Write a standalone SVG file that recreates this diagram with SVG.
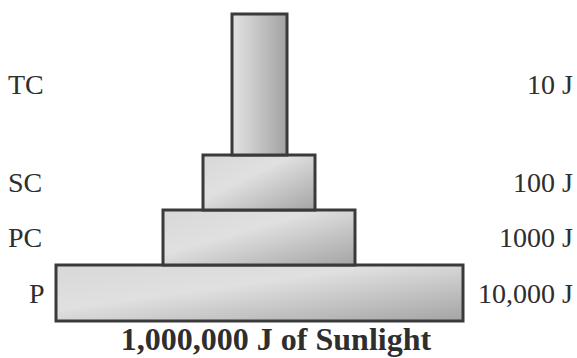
<svg xmlns="http://www.w3.org/2000/svg" width="577" height="358" viewBox="0 0 577 358">
<style>
.lvl{stroke:#3a3a3a;stroke-width:3}
.t{font-family:"Liberation Serif","Times New Roman",serif;font-size:28px;fill:#2e2e2e}
.r{text-anchor:end}
.b{font-weight:bold;font-size:32px;text-anchor:middle}
</style>
<defs>
<linearGradient id="gv" x1="0" y1="0" x2="1" y2="0">
<stop offset="0" stop-color="#e2e2e2"/>
<stop offset="0.3" stop-color="#d0d0d0"/>
<stop offset="1" stop-color="#a2a2a2"/>
</linearGradient>
<linearGradient id="gd" x1="0" y1="0" x2="1" y2="1">
<stop offset="0" stop-color="#d8d8d8"/>
<stop offset="0.4" stop-color="#e0e0e0"/>
<stop offset="1" stop-color="#a4a4a4"/>
</linearGradient>
</defs>
<rect width="577" height="358" fill="#fff"/>
<g id="P">
<rect class="lvl" x="56" y="265" width="407" height="56" fill="url(#gd)"/>
<text class="t" x="29" y="303">P</text>
<text class="t r" x="573" y="303">10,000 J</text>
</g>
<g id="PC">
<rect class="lvl" x="163" y="210" width="192" height="55" fill="url(#gd)"/>
<text class="t" x="8" y="247">PC</text>
<text class="t r" x="573" y="247">1000 J</text>
</g>
<g id="SC">
<rect class="lvl" x="203" y="155" width="112" height="55" fill="url(#gd)"/>
<text class="t" x="8" y="192">SC</text>
<text class="t r" x="573" y="192">100 J</text>
</g>
<g id="TC">
<rect class="lvl" x="232" y="14" width="55" height="141" fill="url(#gv)"/>
<text class="t" x="8" y="94">TC</text>
<text class="t r" x="573" y="94">10 J</text>
</g>
<g id="connectors"></g>
<g id="base">
<text class="t b" x="276" y="350">1,000,000 J of Sunlight</text>
</g>
</svg>
